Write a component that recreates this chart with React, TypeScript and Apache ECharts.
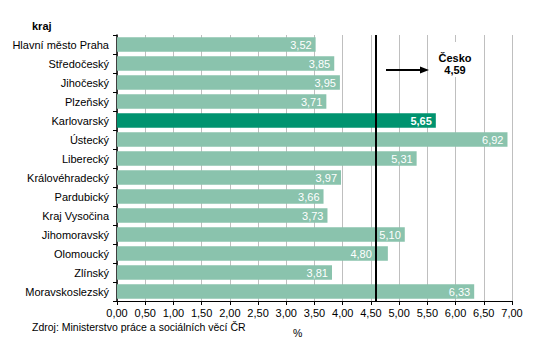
import React, { useEffect, useRef } from "react";
import * as echarts from "echarts";

const categories = [
  "Hlavní město Praha",
  "Středočeský",
  "Jihočeský",
  "Plzeňský",
  "Karlovarský",
  "Ústecký",
  "Liberecký",
  "Královéhradecký",
  "Pardubický",
  "Kraj Vysočina",
  "Jihomoravský",
  "Olomoucký",
  "Zlínský",
  "Moravskoslezský",
];
const values = [3.52, 3.85, 3.95, 3.71, 5.65, 6.92, 5.31, 3.97, 3.66, 3.73, 5.1, 4.8, 3.81, 6.33];
const highlighted = "Karlovarský";
const shiftedLabel = "Olomoucký";
const countryValue = 4.59;
const countryName = "Česko";

const fmt = (v: number) => v.toFixed(2).replace(".", ",");
const FONT = "Liberation Sans, Arial, sans-serif";

export default function App() {
  const ref = useRef<HTMLDivElement>(null);
  useEffect(() => {
    if (!ref.current) return;
    const chart = echarts.init(ref.current, null, { renderer: "svg" });
    chart.setOption({
      animation: false,
      textStyle: { fontFamily: FONT },
      grid: { left: 117, right: 23, top: 35, bottom: 60, containLabel: false },
      xAxis: {
        type: "value",
        min: 0,
        max: 7,
        interval: 0.5,
        axisLine: { show: true, lineStyle: { color: "#000", width: 1 } },
        axisTick: { show: true, length: 4, lineStyle: { color: "#000" } },
        axisLabel: { formatter: (v: number) => fmt(v), color: "#000", fontSize: 11, margin: 6, fontFamily: FONT },
        splitLine: { show: true, lineStyle: { color: "#BFBFBF", width: 1 } },
      },
      yAxis: {
        type: "category",
        data: categories,
        inverse: true,
        axisLine: { show: true, lineStyle: { color: "#000", width: 1.5 } },
        axisTick: { show: true, length: 4, lineStyle: { color: "#000" } },
        axisLabel: { color: "#000", fontSize: 11, margin: 8, fontFamily: FONT },
        splitLine: { show: false },
      },
      series: [
        {
          type: "bar",
          data: categories.map((c, i) => ({
            value: values[i],
            itemStyle: { color: c === highlighted ? "#00936F" : "#8AC3AD" },
            label:
              c === highlighted
                ? { fontWeight: "bold" }
                : c === shiftedLabel
                ? { offset: [-12, 0] }
                : undefined,
          })),
          barCategoryGap: "23%",
          label: {
            show: true,
            position: "insideRight",
            color: "#fff",
            fontSize: 11,
            fontFamily: FONT,
            distance: 4,
            formatter: (p: any) => fmt(p.value),
          },
          markLine: {
            silent: true,
            symbol: "none",
            label: { show: false },
            lineStyle: { color: "#000", width: 2, type: "solid" },
            data: [{ xAxis: countryValue }],
          },
        },
      ],
      graphic: [
        { type: "text", z: 100, left: 32, top: 20, style: { text: "kraj", font: `bold 11px ${FONT}`, fill: "#000" } },
        { type: "rect", z: 100, shape: { x: 429, y: 42, width: 52, height: 35 }, style: { fill: "#fff" } },
        {
          type: "line",
          z: 101,
          shape: { x1: 386, y1: 70, x2: 421, y2: 70 },
          style: { stroke: "#000", lineWidth: 2 },
        },
        {
          type: "polygon",
          z: 101,
          shape: { points: [[420, 66.5], [429, 70], [420, 73.5]] },
          style: { fill: "#000" },
        },
        {
          type: "text",
          z: 101,
          x: 455,
          y: 58,
          style: { text: countryName, font: `bold 11px ${FONT}`, fill: "#000", align: "center", verticalAlign: "middle" },
        },
        {
          type: "text",
          z: 101,
          x: 455,
          y: 70,
          style: { text: fmt(countryValue), font: `bold 11px ${FONT}`, fill: "#000", align: "center", verticalAlign: "middle" },
        },
        {
          type: "text",
          z: 100,
          left: 32,
          top: 321,
          style: { text: "Zdroj: Ministerstvo práce a sociálních věcí ČR", font: `10.5px ${FONT}`, fill: "#000" },
        },
        { type: "text", z: 100, left: 293, top: 327, style: { text: "%", font: `10.5px ${FONT}`, fill: "#000" } },
      ],
    });
    return () => chart.dispose();
  }, []);
  return <div ref={ref} style={{ width: 535, height: 361, position: "absolute", left: 0, top: 0 }} />;
}
